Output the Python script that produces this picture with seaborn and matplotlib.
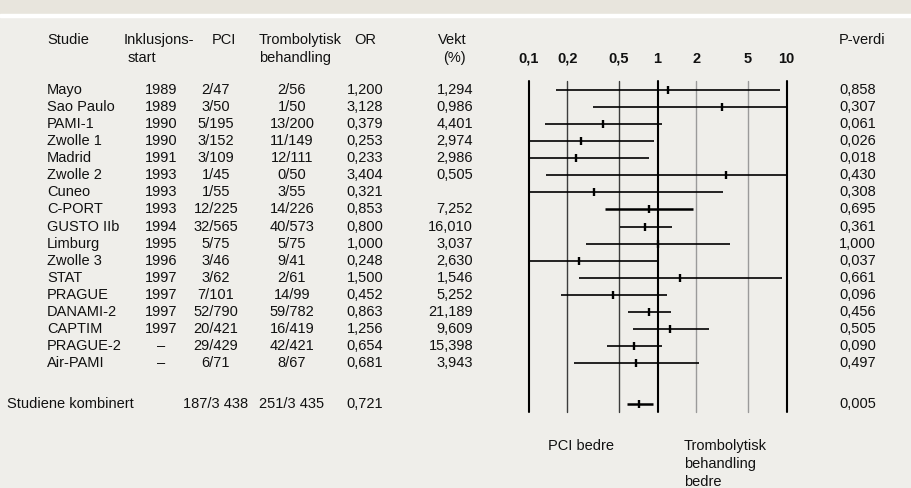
import numpy as np
import pandas as pd
import matplotlib.pyplot as plt
import matplotlib.transforms as mtransforms
from matplotlib.patches import Rectangle
from matplotlib.ticker import NullLocator
import seaborn as sns

# --- Data ---
studier = ['Mayo', 'Sao Paulo', 'PAMI-1', 'Zwolle 1', 'Madrid', 'Zwolle 2', 'Cuneo',
           'C-PORT', 'GUSTO IIb', 'Limburg', 'Zwolle 3', 'STAT', 'PRAGUE', 'DANAMI-2',
           'CAPTIM', 'PRAGUE-2', 'Air-PAMI']
inklusjonsstart = ['1989', '1989', '1990', '1990', '1991', '1993', '1993', '1993', '1994',
                   '1995', '1996', '1997', '1997', '1997', '1997', '–', '–']
pci = ['2/47', '3/50', '5/195', '3/152', '3/109', '1/45', '1/55', '12/225', '32/565',
       '5/75', '3/46', '3/62', '7/101', '52/790', '20/421', '29/429', '6/71']
trombolyse = ['2/56', '1/50', '13/200', '11/149', '12/111', '0/50', '3/55', '14/226', '40/573',
              '5/75', '9/41', '2/61', '14/99', '59/782', '16/419', '42/421', '8/67']
odds_ratio = [1.200, 3.128, 0.379, 0.253, 0.233, 3.404, 0.321, 0.853, 0.800,
              1.000, 0.248, 1.500, 0.452, 0.863, 1.256, 0.654, 0.681]
vekt = [1.294, 0.986, 4.401, 2.974, 2.986, 0.505, np.nan, 7.252, 16.010,
        3.037, 2.630, 1.546, 5.252, 21.189, 9.609, 15.398, 3.943]
p_verdi = [0.858, 0.307, 0.061, 0.026, 0.018, 0.430, 0.308, 0.695, 0.361,
           1.000, 0.037, 0.661, 0.096, 0.456, 0.505, 0.090, 0.497]
# konfidensintervall lest av figuren
ki_lav = [0.164, 0.316, 0.134, 0.068, 0.063, 0.137, 0.032, 0.391, 0.507,
          0.280, 0.062, 0.245, 0.177, 0.592, 0.647, 0.405, 0.227]
ki_hoy = [8.83, 31.0, 1.089, 0.94, 0.86, 84.6, 3.22, 1.89, 1.30,
          3.65, 1.00, 9.20, 1.18, 1.28, 2.48, 1.08, 2.08]

# kombinert estimat
komb_navn = 'Studiene kombinert'
komb_pci = '187/3 438'
komb_tromb = '251/3 435'
komb_or = 0.721
komb_p = 0.005
komb_lav = 0.578
komb_hoy = 0.918

akse_verdier = [0.1, 0.2, 0.5, 1, 2, 5, 10]
akse_etiketter = ['0,1', '0,2', '0,5', '1', '2', '5', '10']


def komma(v, n=3):
    if pd.isna(v):
        return ''
    return f'{v:.{n}f}'.replace('.', ',')


df = pd.DataFrame({
    'Studie': studier, 'Start': inklusjonsstart, 'PCI': pci, 'Tromb': trombolyse,
    'OR': odds_ratio, 'Vekt': vekt, 'P': p_verdi, 'lav': ki_lav, 'hoy': ki_hoy,
})
df.loc[len(df)] = [komb_navn, '', komb_pci, komb_tromb, komb_or, np.nan, komb_p, komb_lav, komb_hoy]
df['rad'] = list(range(len(studier))) + [len(studier) + 1.4]
df['tykk'] = df['Studie'].isin(['C-PORT', komb_navn])

# --- Figure ---
sns.set_theme(style='white')
plt.rcParams['font.family'] = ['Liberation Sans', 'DejaVu Sans']
FS = 10.5
TXT = '#111111'

W, H = 911, 488
fig = plt.figure(figsize=(W / 100, H / 100), dpi=100, facecolor='#efeeea')
fig.patches.append(Rectangle((0, 1 - 14 / H), 1, 14 / H, transform=fig.transFigure,
                             color='#e8e5dd', zorder=0))
fig.patches.append(Rectangle((0, 1 - 17 / H), 1, 3 / H, transform=fig.transFigure,
                             color='white', zorder=0))


def px(x):
    return x / W


def py(y):
    return 1 - y / H


ax = fig.add_axes([px(528.5), py(412), px(786.7) - px(528.5), (412 - 81) / H])
ax.set_facecolor('none')
ax.set_xscale('log')
ax.set_xlim(0.1, 10)
ax.set_ylim(df['rad'].iloc[-1] + 0.47, -0.53)
for s in ax.spines.values():
    s.set_visible(False)

# vertikale linjer
linjestil = {0.1: ('black', 1.5), 0.2: ('#3c3c3c', 1.0), 0.5: ('#3c3c3c', 1.0),
             1: ('black', 1.5), 2: ('#9a9a9a', 1.0), 5: ('#9a9a9a', 1.0), 10: ('black', 1.5)}
for v in akse_verdier:
    c, lw = linjestil[v]
    ax.axvline(v, color=c, lw=lw, clip_on=False, zorder=1)

# konfidensintervall
for tykk, grp in df.groupby('tykk'):
    ax.hlines(grp['rad'], grp['lav'], grp['hoy'], color='black',
              lw=1.8 if tykk else 1.2, zorder=3)
sns.scatterplot(data=df, x='OR', y='rad', marker='|', s=30, color='black',
                linewidth=1.7, ax=ax, zorder=4, legend=False)

ax.xaxis.tick_top()
ax.set_xticks(akse_verdier, akse_etiketter, fontsize=FS, fontweight='bold', color=TXT)
ax.xaxis.set_minor_locator(NullLocator())
ax.tick_params(axis='x', length=0, pad=11)
ax.set_yticks([])
ax.set_xlabel('')
ax.set_ylabel('')

# tabelltekst
trans = mtransforms.blended_transform_factory(fig.transFigure, ax.transData)
for _, r in df.iterrows():
    y = r['rad']
    if r['Studie'] == komb_navn:
        fig.text(px(7), y, r['Studie'], transform=trans, ha='left', va='center', fontsize=FS, color=TXT)
    else:
        fig.text(px(47), y, r['Studie'], transform=trans, ha='left', va='center', fontsize=FS, color=TXT)
    fig.text(px(161), y, r['Start'], transform=trans, ha='center', va='center', fontsize=FS, color=TXT)
    fig.text(px(216), y, r['PCI'], transform=trans, ha='center', va='center', fontsize=FS, color=TXT)
    fig.text(px(292), y, r['Tromb'], transform=trans, ha='center', va='center', fontsize=FS, color=TXT)
    fig.text(px(365), y, komma(r['OR']), transform=trans, ha='center', va='center', fontsize=FS, color=TXT)
    fig.text(px(473), y, komma(r['Vekt']), transform=trans, ha='right', va='center', fontsize=FS, color=TXT)
    fig.text(px(839), y, komma(r['P']), transform=trans, ha='left', va='center', fontsize=FS, color=TXT)

# overskrifter
hoder = [
    (47, 40, 'Studie', 'left'), (124, 40, 'Inklusjons-', 'left'), (128, 58, 'start', 'left'),
    (212, 40, 'PCI', 'left'), (259, 40, 'Trombolytisk', 'left'), (259, 58, 'behandling', 'left'),
    (354, 40, 'OR', 'left'), (452, 40, 'Vekt', 'center'), (454, 58, '(%)', 'center'),
    (839, 40, 'P-verdi', 'left'),
]
for x, y, t, ha in hoder:
    fig.text(px(x), py(y), t, ha=ha, va='center', fontsize=FS, color=TXT)

fig.text(px(548), py(446), 'PCI bedre', ha='left', va='center', fontsize=FS, color=TXT)
for i, t in enumerate(['Trombolytisk', 'behandling', 'bedre']):
    fig.text(px(684), py(446 + 18 * i), t, ha='left', va='center', fontsize=FS, color=TXT)

fig.savefig('out.png', dpi=100, facecolor=fig.get_facecolor())
